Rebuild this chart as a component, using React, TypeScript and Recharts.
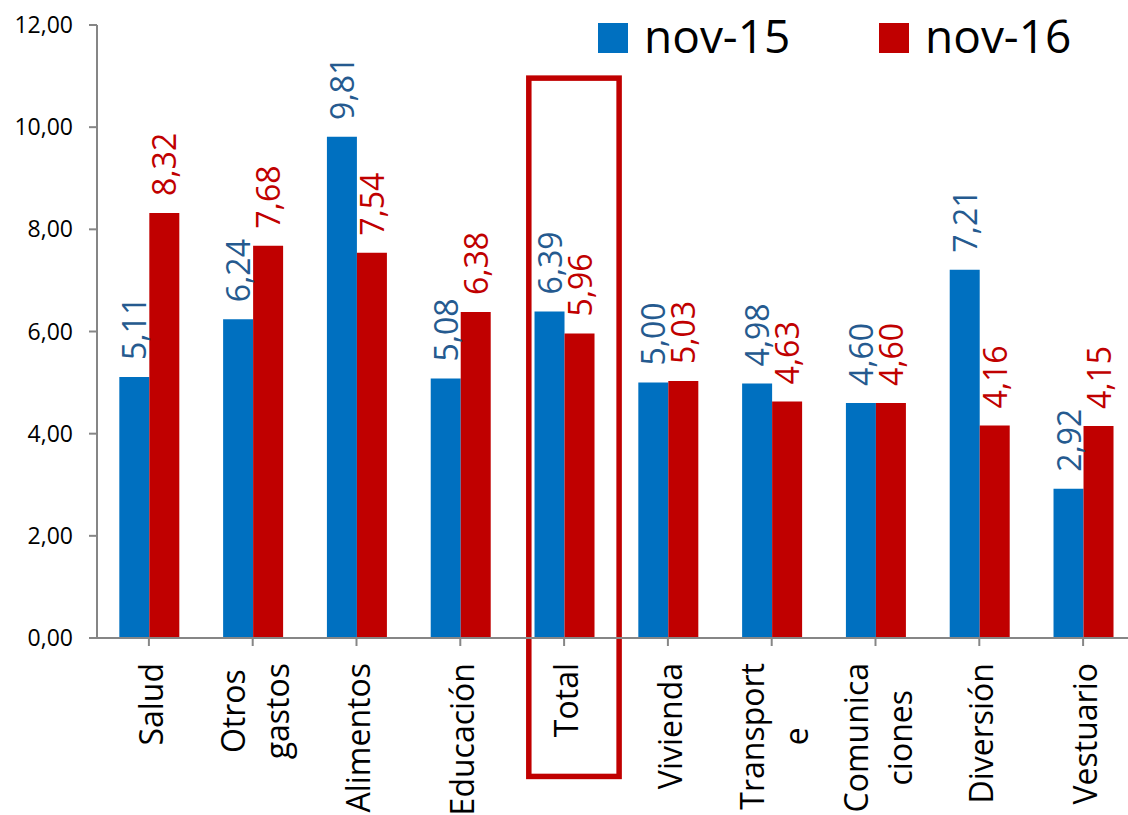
import React from 'react';
import { BarChart, Bar, XAxis, YAxis, Legend, LabelList, ReferenceArea } from 'recharts';

// categories (line breaks as in the original axis labels)
const categories = ['Salud', 'Otros\ngastos', 'Alimentos', 'Educación', 'Total', 'Vivienda', 'Transport\ne', 'Comunica\nciones', 'Diversión', 'Vestuario'];
const nov15 = [5.11, 6.24, 9.81, 5.08, 6.39, 5.0, 4.98, 4.6, 7.21, 2.92];
const nov16 = [8.32, 7.68, 7.54, 6.38, 5.96, 5.03, 4.63, 4.6, 4.16, 4.15];
const yTicks = [0, 2, 4, 6, 8, 10, 12];
const seriesNames = ['nov-15', 'nov-16'];
const highlighted = 'Total';

const BLUE = '#0070C0';
const RED = '#C00000';
const BLUE_LABEL = '#255A8F';
const AXIS = '#868686';
const FONT = "'Open Sans', sans-serif";

const data = categories.map((cat, i) => ({ cat, a: nov15[i], b: nov16[i] }));

const fmt = (v: number) => Number(v).toFixed(2).replace('.', ',');

let ctx: CanvasRenderingContext2D | null = null;
function textWidth(s: string, font: string) {
  if (!ctx) ctx = document.createElement('canvas').getContext('2d');
  if (!ctx) return s.length * 16;
  ctx.font = font;
  return ctx.measureText(s).width;
}

function CategoryTick(props: any) {
  const { x, y, payload } = props;
  const lines = String(payload.value).split('\n');
  const fs = 32;
  const maxW = Math.max(...lines.map((l) => textWidth(l, `${fs}px ${FONT}`)));
  const cy = y + 15 + maxW / 2;
  return (
    <g>
      {lines.map((l, i) => {
        const bx = x + 14 + (i - (lines.length - 1) / 2) * 44;
        return (
          <text key={i} x={bx} y={cy} transform={`rotate(-90, ${bx}, ${cy})`} textAnchor="middle" fontSize={fs} fill="#000">
            {l}
          </text>
        );
      })}
    </g>
  );
}

const valueLabel = (color: string) => (props: any) => {
  const vb = props.viewBox || {};
  const x = props.x ?? vb.x;
  const y = props.y ?? vb.y;
  const width = props.width ?? vb.width;
  const cx = x + width / 2 + 12;
  const by = y - 17;
  return (
    <text x={cx} y={by} transform={`rotate(-90, ${cx}, ${by})`} textAnchor="start" fontSize={32} fill={color}>
      {fmt(props.value)}
    </text>
  );
};

function HighlightBox(props: any) {
  const { x, y, width, height } = props;
  return <rect x={x + width * 0.16} y={y} width={width * 0.87} height={height} fill="none" stroke={RED} strokeWidth={5.5} />;
}

function LegendContent(props: any) {
  const items = (props.payload && props.payload.length ? props.payload : seriesNames.map((n, i) => ({ value: n, color: i ? RED : BLUE })));
  return (
    <div style={{ display: 'flex', alignItems: 'flex-start' }}>
      {items.map((it: any, i: number) => (
        <div key={it.value} style={{ display: 'flex', alignItems: 'flex-start', width: i === 0 ? 281 : 'auto' }}>
          <span style={{ display: 'inline-block', width: 30, height: 30, background: it.color, marginTop: 11, marginRight: 16 }} />
          <span style={{ fontSize: 46, lineHeight: '46px', color: '#000' }}>{it.value}</span>
        </div>
      ))}
    </div>
  );
}

export default function App() {
  return (
    <div style={{ position: 'absolute', left: 0, top: 0, width: 1128, height: 815, overflow: 'hidden', background: '#fff', fontFamily: FONT }}>
      <BarChart width={1140} height={815} data={data} margin={{ top: 25, right: 5, left: 0, bottom: 0 }} barGap={0} barCategoryGap="21.5%">
        <XAxis
          dataKey="cat"
          interval={0}
          height={177}
          tickSize={8}
          tickMargin={2}
          axisLine={{ stroke: AXIS, strokeWidth: 2 }}
          tickLine={{ stroke: AXIS, strokeWidth: 2 }}
          tick={<CategoryTick />}
        />
        <YAxis
          domain={[0, 12]}
          ticks={yTicks}
          interval={0}
          width={97}
          tickSize={8}
          tickMargin={16}
          tickFormatter={fmt}
          axisLine={{ stroke: AXIS, strokeWidth: 2 }}
          tickLine={{ stroke: AXIS, strokeWidth: 2 }}
          tick={{ fontSize: 23, fill: '#000' }}
        />
        <Legend
          layout="horizontal"
          verticalAlign="middle"
          align="center"
          content={<LegendContent />}
          wrapperStyle={{ left: 598, top: 12, width: 'auto', height: 'auto' }}
        />
        <Bar dataKey="a" name={seriesNames[0]} fill={BLUE} isAnimationActive={false}>
          <LabelList dataKey="a" content={valueLabel(BLUE_LABEL)} />
        </Bar>
        <Bar dataKey="b" name={seriesNames[1]} fill={RED} isAnimationActive={false}>
          <LabelList dataKey="b" content={valueLabel(RED)} />
        </Bar>
        <ReferenceArea x1={highlighted} x2={highlighted} y1={-2.71} y2={10.96} ifOverflow="visible" shape={<HighlightBox />} />
      </BarChart>
    </div>
  );
}
